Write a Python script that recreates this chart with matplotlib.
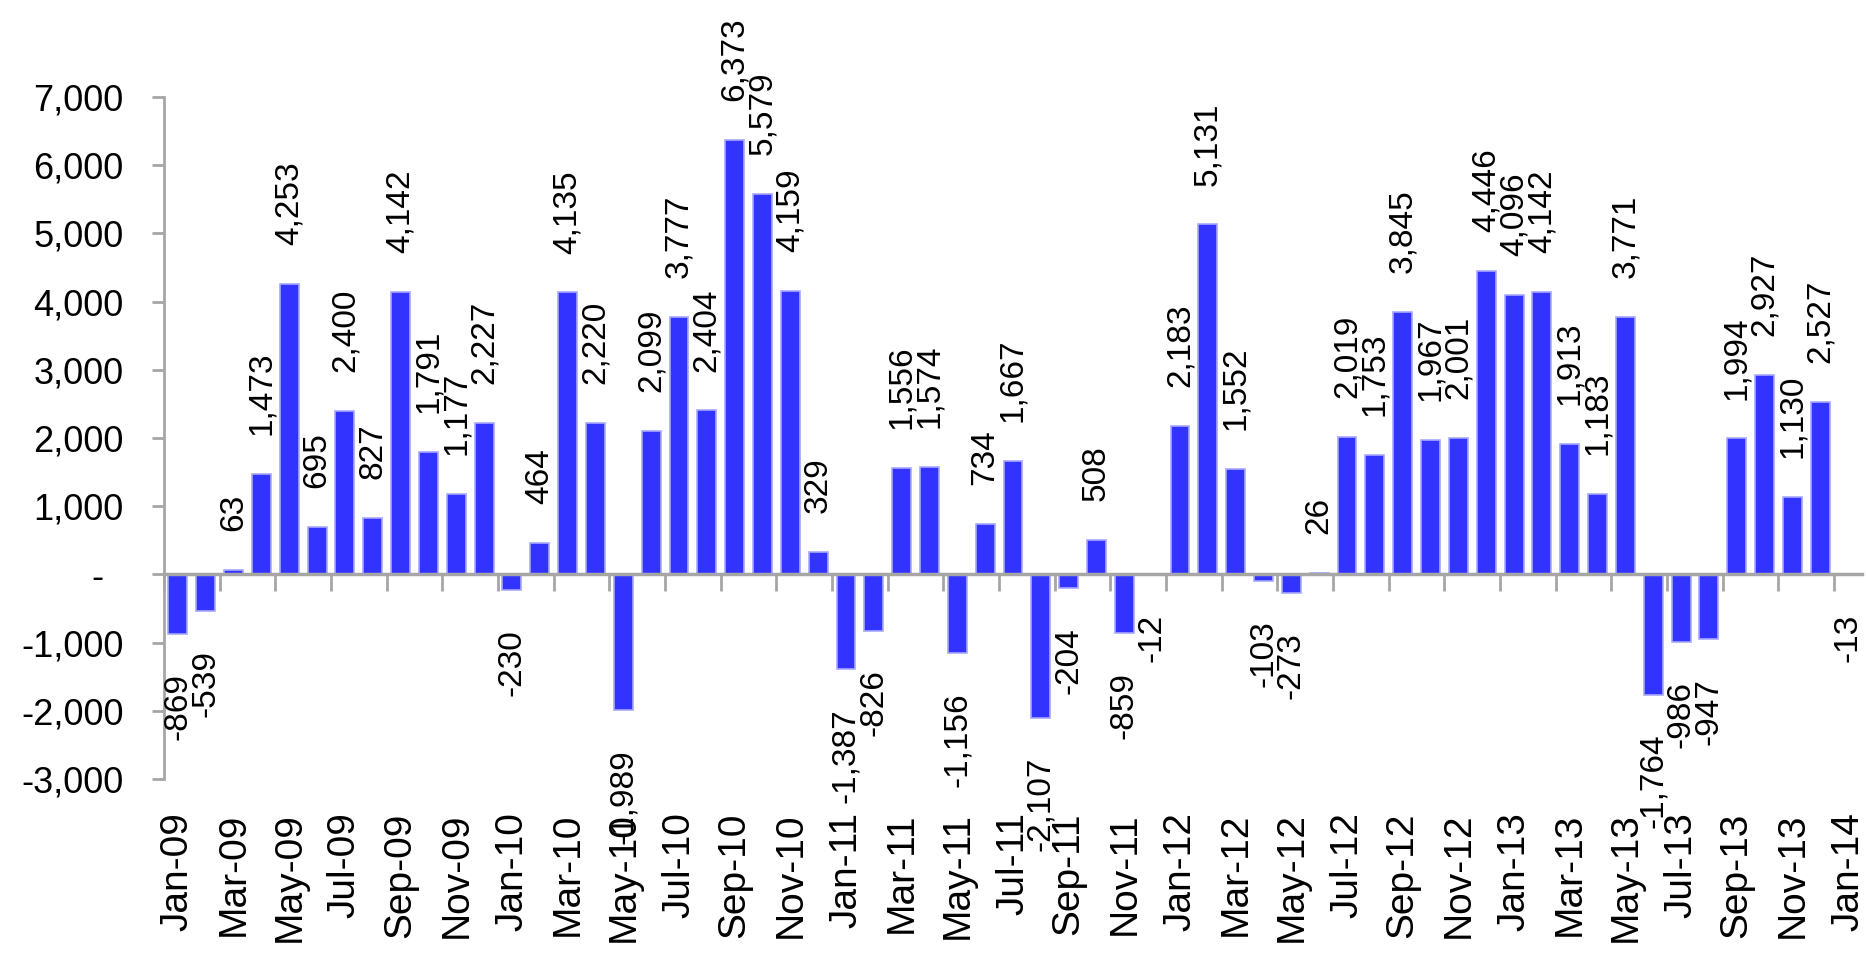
import numpy as np
import matplotlib.pyplot as plt
from matplotlib.ticker import FuncFormatter

plt.rcParams['font.family'] = ['Liberation Sans', 'DejaVu Sans']

# Monthly values, Jan-09 .. Jan-14
months = ['Jan-09', 'Feb-09', 'Mar-09', 'Apr-09', 'May-09', 'Jun-09', 'Jul-09', 'Aug-09',
          'Sep-09', 'Oct-09', 'Nov-09', 'Dec-09',
          'Jan-10', 'Feb-10', 'Mar-10', 'Apr-10', 'May-10', 'Jun-10', 'Jul-10', 'Aug-10',
          'Sep-10', 'Oct-10', 'Nov-10', 'Dec-10',
          'Jan-11', 'Feb-11', 'Mar-11', 'Apr-11', 'May-11', 'Jun-11', 'Jul-11', 'Aug-11',
          'Sep-11', 'Oct-11', 'Nov-11', 'Dec-11',
          'Jan-12', 'Feb-12', 'Mar-12', 'Apr-12', 'May-12', 'Jun-12', 'Jul-12', 'Aug-12',
          'Sep-12', 'Oct-12', 'Nov-12', 'Dec-12',
          'Jan-13', 'Feb-13', 'Mar-13', 'Apr-13', 'May-13', 'Jun-13', 'Jul-13', 'Aug-13',
          'Sep-13', 'Oct-13', 'Nov-13', 'Dec-13',
          'Jan-14']
values = [-869, -539, 63, 1473, 4253, 695, 2400, 827, 4142, 1791, 1177, 2227,
          -230, 464, 4135, 2220, -1989, 2099, 3777, 2404, 6373, 5579, 4159, 329,
          -1387, -826, 1556, 1574, -1156, 734, 1667, -2107, -204, 508, -859, -12,
          2183, 5131, 1552, -103, -273, 26, 2019, 1753, 3845, 1967, 2001, 4446,
          4096, 4142, 1913, 1183, 3771, -1764, -986, -947, 1994, 2927, 1130, 2527,
          -13]
yticks = [-3000, -2000, -1000, 0, 1000, 2000, 3000, 4000, 5000, 6000, 7000]

x = np.arange(len(values))
axis_grey = '#a6a6a6'

fig = plt.figure(figsize=(18.66, 9.56), dpi=100)
ax = fig.add_axes([164 / 1866, 1 - 779 / 956, (1862 - 164) / 1866, (779 - 97) / 956])

ax.bar(x, values, width=0.68, color='#3333ff', edgecolor='#a8a8ff', linewidth=1.2, zorder=2)

for xi, v in zip(x, values):
    if v >= 0:
        ax.annotate(f'{v:,}', (xi, v), xytext=(0, 28), textcoords='offset points',
                    rotation=90, ha='center', va='bottom', fontsize=24)
    else:
        ax.annotate(f'{v:,}', (xi, v), xytext=(0, -28), textcoords='offset points',
                    rotation=90, ha='center', va='top', fontsize=24)

ax.set_xlim(-0.5, len(values) - 0.5)
ax.set_ylim(-3000, 7000)
ax.set_yticks(yticks)
ax.yaxis.set_major_formatter(FuncFormatter(lambda v, p: '-  ' if v == 0 else f'{int(v):,}'))
ax.tick_params(axis='y', length=9, width=2, color=axis_grey, pad=20, labelsize=26)

ax.set_xticks(x[::2])
ax.set_xticklabels(months[::2], rotation=90)
ax.tick_params(axis='x', length=0, pad=24, labelsize=28)

for s in ['top', 'right', 'bottom']:
    ax.spines[s].set_visible(False)
ax.spines['left'].set_color(axis_grey)
ax.spines['left'].set_linewidth(2)

# zero line with tick marks between category pairs
ax2 = ax.twiny()
ax2.set_xlim(ax.get_xlim())
for s in ['top', 'right', 'left']:
    ax2.spines[s].set_visible(False)
ax2.spines['bottom'].set_position(('data', 0))
ax2.spines['bottom'].set_color(axis_grey)
ax2.spines['bottom'].set_linewidth(2.5)
ax2.spines['bottom'].set_zorder(3)
ax2.xaxis.set_ticks_position('bottom')
ax2.set_xticks(np.arange(-0.5, len(values), 2))
ax2.tick_params(axis='x', length=12, width=2, color=axis_grey, labelbottom=False, labeltop=False)

fig.savefig('out.png', dpi=100)
